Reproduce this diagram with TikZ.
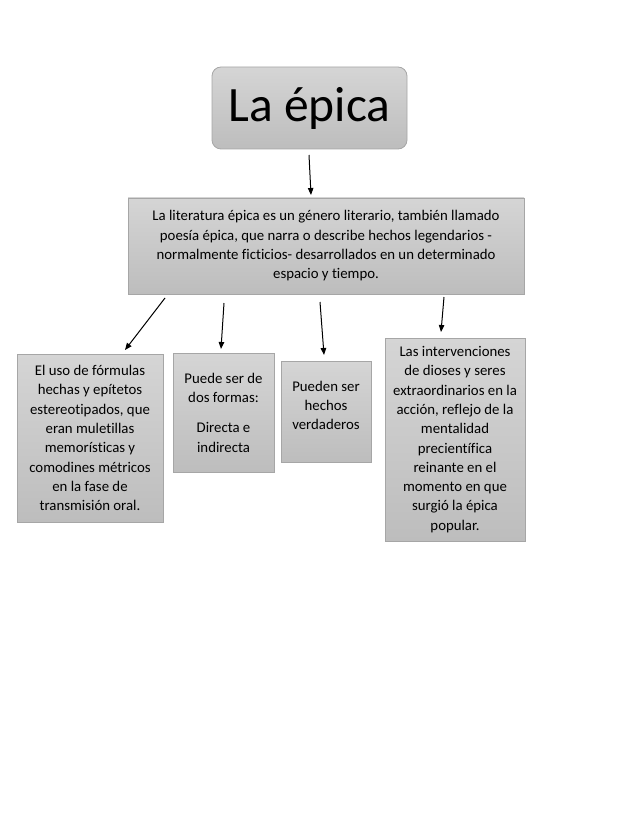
\documentclass[tikz,border=0pt]{standalone}
\usepackage{fontspec}
\setmainfont{Carlito}[Ligatures=NoCommon]
\usetikzlibrary{arrows.meta,positioning}
\definecolor{boxtop}{HTML}{D5D5D5}
\definecolor{boxbot}{HTML}{BDBDBD}
\definecolor{boxline}{HTML}{A6A6A6}

\begin{document}
\begin{tikzpicture}[x=1pt,y=-1pt,>={Triangle[length=7pt,width=5.5pt]},
  box/.style={draw=boxline,line width=0.8pt,top color=boxtop,bottom color=boxbot,
    align=center,inner sep=0pt,font=\fontsize{14.8}{19.3}\selectfont},
  link/.style={->,line width=1pt}]
  \useasboundingbox (0,0) rectangle (638,826);

  % title and definition
  \node[box,rounded corners=9pt,minimum width=195pt,minimum height=82pt,
    font=\fontsize{49.5}{58}\selectfont] (epica) at (309.5,108) {La épica};
  \node[box,minimum width=396pt,minimum height=96pt] (definicion) at (326,246)
    {La literatura épica es un género literario, también llamado\\
     poesía épica, que narra o describe hechos legendarios -\\
     normalmente ficticios- desarrollados en un determinado\\
     espacio y tiempo.};

  % features
  \node[box,minimum width=146pt,minimum height=168pt] (formulas) at (90,438)
    {El uso de fórmulas\\hechas y epítetos\\estereotipados, que\\eran muletillas\\
     memorísticas y\\comodines métricos\\en la fase de\\transmisión oral.};
  \node[box,minimum width=101pt,minimum height=119pt] (formas) at (223.5,412.5)
    {Puede ser de\\dos formas:\\[11pt]Directa e\\indirecta};
  \node[box,minimum width=90pt,minimum height=101pt] (hechos) at (326,411.5)
    {Pueden ser\\hechos\\verdaderos\\[-7pt]};
  \node[box,minimum width=140pt,minimum height=203pt] (dioses) at (455,439.5)
    {Las intervenciones\\de dioses y seres\\extraordinarios en la\\acción, reflejo de la\\
     mentalidad\\precientífica\\reinante en el\\momento en que\\surgió la épica\\popular.};

  % arrow ends
  \coordinate (a1s) at (309,155);
  \coordinate (a1e) at (311,195);
  \coordinate (a2s) at (165,298);
  \coordinate (a2e) at (125,350);
  \coordinate (a3s) at (224,303);
  \coordinate (a3e) at (221,349);
  \coordinate (a4s) at (320,302);
  \coordinate (a4e) at (324,355);
  \coordinate (a5s) at (444,297);
  \coordinate (a5e) at (441,332);

  \draw[link] (a1s) -- (a1e);
  \draw[link] (a2s) -- (a2e);
  \draw[link] (a3s) -- (a3e);
  \draw[link] (a4s) -- (a4e);
  \draw[link] (a5s) -- (a5e);
\end{tikzpicture}
\end{document}
